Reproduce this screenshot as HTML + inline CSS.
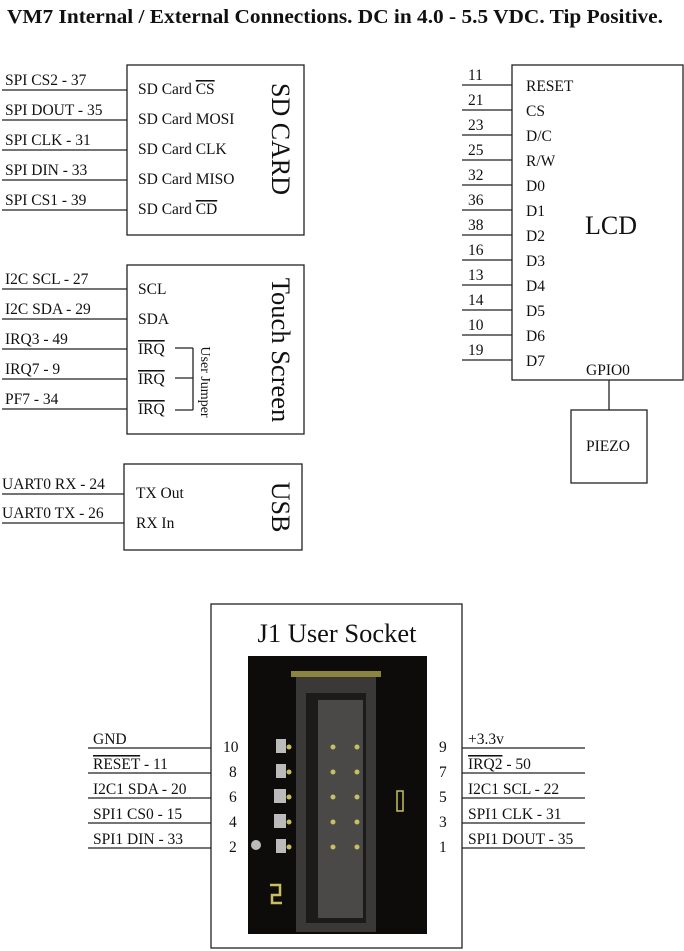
<!DOCTYPE html>
<html><head><meta charset="utf-8"><style>
html,body{margin:0;padding:0;background:#fff;}
svg{display:block;font-family:"Liberation Serif",serif;}
text{fill:#111;}
.ov{text-decoration:overline;}
</style></head><body>
<svg width="684" height="951" viewBox="0 0 684 951" xmlns="http://www.w3.org/2000/svg">
<text x="7" y="23" font-size="19.5" font-weight="bold" textLength="656" lengthAdjust="spacingAndGlyphs">VM7 Internal / External Connections. DC in 4.0 - 5.5 VDC. Tip Positive.</text>
<g stroke="#222" stroke-width="1.3" fill="none">
<rect x="127" y="65" width="177" height="170"/>
<rect x="127" y="265" width="177" height="169"/>
<rect x="124" y="464" width="178" height="86"/>
<rect x="512" y="65" width="171" height="315"/>
<rect x="571" y="410" width="76" height="73"/>
<line x1="609" y1="380" x2="609" y2="410"/>
<rect x="211" y="604" width="251" height="344"/>
<line x1="2" y1="90" x2="127" y2="90"/><line x1="2" y1="120" x2="127" y2="120"/><line x1="2" y1="150" x2="127" y2="150"/><line x1="2" y1="180" x2="127" y2="180"/><line x1="2" y1="210" x2="127" y2="210"/>
<line x1="2" y1="289" x2="127" y2="289"/><line x1="2" y1="319" x2="127" y2="319"/><line x1="2" y1="349" x2="127" y2="349"/><line x1="2" y1="379" x2="127" y2="379"/><line x1="2" y1="409" x2="127" y2="409"/>
<line x1="175" y1="348" x2="193" y2="348"/><line x1="175" y1="378" x2="193" y2="378"/><line x1="175" y1="410" x2="193" y2="410"/><line x1="193" y1="348" x2="193" y2="410"/>
<line x1="2" y1="494" x2="124" y2="494"/><line x1="2" y1="523" x2="124" y2="523"/>
<line x1="462" y1="85" x2="512" y2="85"/><line x1="462" y1="110" x2="512" y2="110"/><line x1="462" y1="135" x2="512" y2="135"/><line x1="462" y1="160" x2="512" y2="160"/><line x1="462" y1="185" x2="512" y2="185"/><line x1="462" y1="210" x2="512" y2="210"/><line x1="462" y1="235" x2="512" y2="235"/><line x1="462" y1="260" x2="512" y2="260"/><line x1="462" y1="285" x2="512" y2="285"/><line x1="462" y1="310" x2="512" y2="310"/><line x1="462" y1="335" x2="512" y2="335"/><line x1="462" y1="360" x2="512" y2="360"/>
<line x1="88" y1="748" x2="211" y2="748"/><line x1="88" y1="773" x2="211" y2="773"/><line x1="88" y1="798" x2="211" y2="798"/><line x1="88" y1="823" x2="211" y2="823"/><line x1="88" y1="848" x2="211" y2="848"/>
<line x1="462" y1="748" x2="585" y2="748"/><line x1="462" y1="773" x2="585" y2="773"/><line x1="462" y1="798" x2="585" y2="798"/><line x1="462" y1="823" x2="585" y2="823"/><line x1="462" y1="848" x2="585" y2="848"/>
</g>
<g font-size="15.5">
<text x="5" y="85">SPI CS2 - 37</text><text x="5" y="115">SPI DOUT - 35</text><text x="5" y="145">SPI CLK - 31</text><text x="5" y="175">SPI DIN - 33</text><text x="5" y="205">SPI CS1 - 39</text>
<text x="138" y="94">SD Card <tspan class="ov">CS</tspan></text><text x="138" y="124">SD Card MOSI</text><text x="138" y="154">SD Card CLK</text><text x="138" y="184">SD Card MISO</text><text x="138" y="214">SD Card <tspan class="ov">CD</tspan></text>
<text x="5" y="284">I2C SCL - 27</text><text x="5" y="314">I2C SDA - 29</text><text x="5" y="344">IRQ3 - 49</text><text x="5" y="374">IRQ7 - 9</text><text x="5" y="404">PF7 - 34</text>
<text x="138" y="294">SCL</text><text x="138" y="324">SDA</text><text x="138" y="354" class="ov">IRQ</text><text x="138" y="384" class="ov">IRQ</text><text x="138" y="414" class="ov">IRQ</text>
<text x="2" y="489">UART0 RX - 24</text><text x="2" y="518">UART0 TX - 26</text>
<text x="136" y="498">TX Out</text><text x="136" y="528">RX In</text>
<text x="468" y="80">11</text><text x="468" y="105">21</text><text x="468" y="130">23</text><text x="468" y="155">25</text><text x="468" y="180">32</text><text x="468" y="205">36</text><text x="468" y="230">38</text><text x="468" y="255">16</text><text x="468" y="280">13</text><text x="468" y="305">14</text><text x="468" y="330">10</text><text x="468" y="355">19</text>
<text x="526" y="91">RESET</text><text x="526" y="116">CS</text><text x="526" y="141">D/C</text><text x="526" y="166">R/W</text><text x="526" y="191">D0</text><text x="526" y="216">D1</text><text x="526" y="241">D2</text><text x="526" y="266">D3</text><text x="526" y="291">D4</text><text x="526" y="316">D5</text><text x="526" y="341">D6</text><text x="526" y="366">D7</text>
<text x="586" y="375">GPIO0</text>
<text x="586" y="451">PIEZO</text>
<text x="93" y="744">GND</text><text x="93" y="769"><tspan class="ov">RESET</tspan> - 11</text><text x="93" y="794">I2C1 SDA - 20</text><text x="93" y="819">SPI1 CS0 - 15</text><text x="93" y="844">SPI1 DIN - 33</text>
<text x="468" y="744">+3.3v</text><text x="468" y="769"><tspan class="ov">IRQ2</tspan> - 50</text><text x="468" y="794">I2C1 SCL - 22</text><text x="468" y="819">SPI1 CLK - 31</text><text x="468" y="844">SPI1 DOUT - 35</text>
<text x="223" y="752">10</text><text x="229" y="777">8</text><text x="229" y="802">6</text><text x="229" y="827">4</text><text x="229" y="852">2</text>
<text x="439" y="752">9</text><text x="439" y="777">7</text><text x="439" y="802">5</text><text x="439" y="827">3</text><text x="439" y="852">1</text>
</g>
<text x="585" y="234" font-size="26">LCD</text>
<text transform="translate(272,139) rotate(90)" font-size="26" text-anchor="middle">SD CARD</text>
<text transform="translate(272,350) rotate(90)" font-size="26.5" text-anchor="middle">Touch Screen</text>
<text transform="translate(272,507) rotate(90)" font-size="26" text-anchor="middle">USB</text>
<text transform="translate(201,382) rotate(90)" font-size="14" text-anchor="middle">User Jumper</text>
<text x="337" y="642" font-size="26.5" text-anchor="middle">J1 User Socket</text>
<rect x="248" y="656" width="179" height="278" fill="#0d0c0b"/>
<rect x="291" y="671" width="90" height="6" fill="#8a8440"/>
<rect x="296" y="677" width="80" height="255" fill="#3a3938"/>
<rect x="306" y="693" width="60" height="230" fill="#1c1b1a"/>
<rect x="318" y="700" width="45" height="218" fill="#4a4948"/>
<g fill="#c8c060">
<circle cx="289" cy="747" r="2.5"/><circle cx="333" cy="747" r="2.5"/><circle cx="357" cy="747" r="2.5"/>
<circle cx="289" cy="772" r="2.5"/><circle cx="333" cy="772" r="2.5"/><circle cx="357" cy="772" r="2.5"/>
<circle cx="289" cy="797" r="2.5"/><circle cx="333" cy="797" r="2.5"/><circle cx="357" cy="797" r="2.5"/>
<circle cx="289" cy="822" r="2.5"/><circle cx="333" cy="822" r="2.5"/><circle cx="357" cy="822" r="2.5"/>
<circle cx="289" cy="847" r="2.5"/><circle cx="333" cy="847" r="2.5"/><circle cx="357" cy="847" r="2.5"/>
</g>
<g fill="#bbb">
<rect x="276" y="739" width="10" height="14"/><rect x="276" y="764" width="10" height="14"/><rect x="274" y="789" width="12" height="14"/><rect x="274" y="814" width="12" height="14"/><rect x="276" y="839" width="10" height="14"/><circle cx="256" cy="845" r="5"/>
</g>
<path d="M270 885 h10 v10 h-8 v8 h10" stroke="#c8c060" stroke-width="2.5" fill="none"/>
<rect x="397" y="791" width="6" height="20" fill="none" stroke="#c8c060" stroke-width="1.5"/>
</svg>
</body></html>
